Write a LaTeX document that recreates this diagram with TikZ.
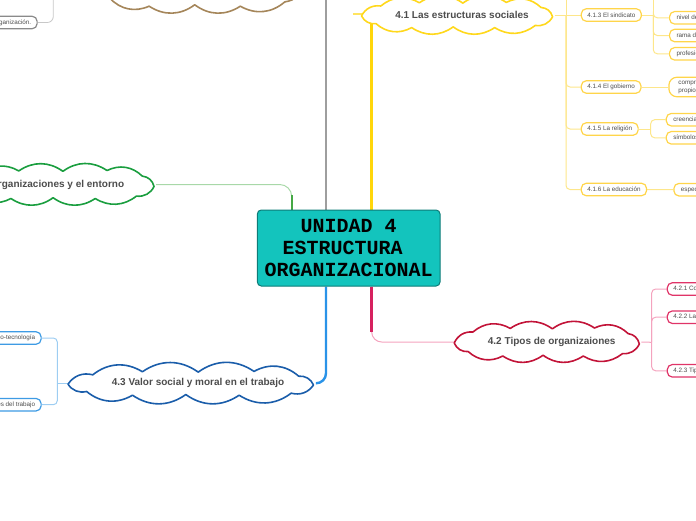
\documentclass[tikz,border=0pt]{standalone}
\usepackage{fontspec}
\setmainfont{Liberation Sans}
\newfontfamily\monofnt{Liberation Mono}
\pgfdeclarelayer{bg}
\pgfsetlayers{bg,main}
\definecolor{txtgray}{HTML}{4D4D4D}
\definecolor{cfill}{HTML}{13C4BD}
\definecolor{cborder}{HTML}{0D7C78}
\definecolor{grayline}{HTML}{9E9E9E}
\definecolor{grayleaf}{HTML}{8A8A8A}
\definecolor{graythin}{HTML}{C8C8C8}
\definecolor{yellowT}{HTML}{FFD60A}
\definecolor{yellowC}{HTML}{FFD81C}
\definecolor{yellowL}{HTML}{FFD54A}
\definecolor{yellowB}{HTML}{FDE68A}
\definecolor{greenT}{HTML}{45A845}
\definecolor{greenB}{HTML}{A8D8A8}
\definecolor{greenC}{HTML}{1A9E3F}
\definecolor{pinkT}{HTML}{D6215F}
\definecolor{pinkB}{HTML}{F4A3BE}
\definecolor{redC}{HTML}{C21338}
\definecolor{pinkL}{HTML}{E03468}
\definecolor{blueT}{HTML}{2A93E8}
\definecolor{blueC}{HTML}{1A5DAA}
\definecolor{blueL}{HTML}{3E9BE4}
\definecolor{blueB}{HTML}{9DCDF2}
\definecolor{brownC}{HTML}{A5865A}
% cloud outline: #1 style, #2 cx, #3 cy, #4 half width, #5 half height
\newcommand\mmcloud[5]{%
  \draw[#1] ({#2-1.00*#4},{#3+0.05*#5})
    to[bend left=35] ({#2-0.80*#4},{#3-0.50*#5})
    to[bend left=35] ({#2-0.40*#4},{#3-0.68*#5})
    to[bend left=35] ({#2+0.05*#4},{#3-0.66*#5})
    to[bend left=35] ({#2+0.50*#4},{#3-0.70*#5})
    to[bend left=35] ({#2+0.86*#4},{#3-0.42*#5})
    to[bend left=35] ({#2+0.98*#4},{#3+0.10*#5})
    to[bend left=35] ({#2+0.80*#4},{#3+0.58*#5})
    to[bend left=35] ({#2+0.38*#4},{#3+0.70*#5})
    to[bend left=35] ({#2-0.05*#4},{#3+0.66*#5})
    to[bend left=35] ({#2-0.48*#4},{#3+0.70*#5})
    to[bend left=35] ({#2-0.85*#4},{#3+0.48*#5})
    to[bend left=35] ({#2-1.00*#4},{#3+0.05*#5}) -- cycle;}
\begin{document}
\begin{tikzpicture}[x=1pt,y=-1pt,
  central/.style={draw=cborder, fill=cfill, line width=1pt, rounded corners=4pt,
    minimum width=182.7pt, minimum height=76pt, align=center, inner sep=0pt,
    font=\monofnt\bfseries\fontsize{20}{21.7}\selectfont, text=black},
  cloudline/.style={fill=white, line width=1.6pt, line join=round},
  cloudtext/.style={inner sep=0pt, font=\fontsize{10}{12}\selectfont\bfseries, text=txtgray},
  leaf/.style={fill=white, rounded corners=5pt, line width=1.2pt,
    minimum height=12.5pt, inner xsep=6pt, inner ysep=0pt,
    font=\fontsize{6.3}{7.4}\selectfont, text=txtgray},
  yleaf/.style={leaf, draw=yellowL, anchor=west},
  pleaf/.style={leaf, draw=pinkL, anchor=west},
  bleaf/.style={leaf, draw=blueL, anchor=east},
  ybranch/.style={draw=yellowB, line width=1pt, rounded corners=4pt},
  pbranch/.style={draw=pinkB, line width=1pt, rounded corners=4pt},
  bbranch/.style={draw=blueB, line width=1pt, rounded corners=4pt},
]
\useasboundingbox (0,0) rectangle (696,520);

% central
\node[central] (c) at (348.7,248) {UNIDAD 4\\ESTRUCTURA\hphantom{A}\\ORGANIZACIONAL};

% clouds
\mmcloud{cloudline, draw=yellowC}{458}{15}{96.5}{18}
\node[cloudtext, minimum width=193pt, minimum height=36pt] (s41) at (458,15) {\hspace{8pt}4.1 Las estructuras sociales};
\mmcloud{cloudline, draw=redC}{547.7}{342}{93.5}{20}
\node[cloudtext, minimum width=187pt, minimum height=40pt] (s42) at (547.7,342) {\hspace{8pt}4.2 Tipos de organizaiones};
\mmcloud{cloudline, draw=blueC}{192}{383.3}{124}{17}
\node[cloudtext, minimum width=248pt, minimum height=36pt] (s43) at (192,383.3) {\hspace{12pt}4.3 Valor social y moral en el trabajo};
\mmcloud{cloudline, draw=greenC}{58}{184.5}{98}{20}
\node[cloudtext, minimum width=196pt, minimum height=40pt] (s44) at (58,184.5) {organizaciones y el entorno};
\mmcloud{cloudline, draw=brownC}{200}{-19}{106}{36}
\node[cloudtext, minimum width=212pt, minimum height=72pt] (s45) at (200,-19) {};

% leaves of 4.1
\node[yleaf] (l413) at (580.7,15) {4.1.3 El sindicato};
\node[yleaf] (l414) at (580.7,87) {4.1.4 El gobierno};
\node[yleaf] (l415) at (580.7,129) {4.1.5 La religión};
\node[yleaf] (l416) at (580.7,189.5) {4.1.6 La educación};
\node[yleaf, inner xsep=7pt] (la) at (669,17.8) {nivel de empresa};
\node[yleaf, inner xsep=7pt] (lb) at (669,35.5) {rama de industria};
\node[yleaf, inner xsep=7pt] (lc) at (669,53.8) {profesional};
\node[yleaf, inner xsep=9.5pt, minimum height=19.5pt, align=left, rounded corners=8pt] (ld) at (668.3,87) {comprende al\\propio Estado};
\node[yleaf, inner xsep=7pt] (le) at (665.7,119.7) {creencias religiosas};
\node[yleaf, inner xsep=7pt] (lf) at (665.7,137.8) {símbolos religiosos};
\node[yleaf, inner xsep=7pt] (lg) at (673.3,189.7) {especialización};

% leaves of 4.2
\node[pleaf] (l421) at (666.7,289) {4.2.1 Concepto de organización};
\node[pleaf] (l422) at (666.7,317.2) {4.2.2 Las organizaciones formales};
\node[pleaf] (l423) at (666.7,370.8) {4.2.3 Tipos de organizaciones};

% leaves of 4.3
\node[bleaf] (l431) at (41.7,338) {La relación trabajo-tecnología};
\node[bleaf] (l432) at (41.7,404.7) {Los valores del trabajo};

% gray leaf top left
\node[leaf, draw=grayleaf, anchor=east] (l0) at (37.7,22.5) {Concepto de organización.};

% junction coordinates
\coordinate (topG) at (326,-8);
\coordinate (g0) at (53.3,-8);
\coordinate (gx) at (291.7,0);
\coordinate (yx) at (371.7,0);
\coordinate (y0) at (353,14);
\coordinate (yj) at (566,15);
\coordinate (ytop) at (566,-8);
\coordinate (j3) at (653.3,15);
\coordinate (j3top) at (653.3,-8);
\coordinate (j5) at (650.7,129);
\coordinate (px) at (371.7,0);
\coordinate (pj) at (651.7,342.3);
\coordinate (bx) at (326,0);
\coordinate (bj) at (57.3,383.3);

\begin{pgfonlayer}{bg}
% gray
\draw[line width=2.6pt, grayline] (c.north -| topG) -- (topG);
\draw[line width=0.8pt, graythin, rounded corners=6pt] (l0.east) -| (g0);
% green
\draw[line width=1pt, greenB, rounded corners=12pt] (c.north -| gx) |- (s44.east);
\draw[line width=2pt, greenT] (c.north -| gx) -- ++(0,-15);
% yellow
\draw[line width=1.2pt, yellowT, rounded corners=10pt] (c.north -| yx) |- (y0);
\draw[line width=2.6pt, yellowT] (c.north -| yx) -- ++(0,-186);
\draw[ybranch] (s41.east) -- (yj);
\draw[ybranch] (yj) -- (ytop);
\draw[ybranch] (yj) -- (l413.west);
\draw[ybranch] (yj) |- (l414.west);
\draw[ybranch] (yj) |- (l415.west);
\draw[ybranch] (yj) |- (l416.west);
\draw[ybranch] (l413.east) -- (j3);
\draw[ybranch] (j3) -- (j3top);
\draw[ybranch] (j3) |- (la.west);
\draw[ybranch] (j3) |- (lb.west);
\draw[ybranch] (j3) |- (lc.west);
\draw[ybranch] (l414.east) -- (ld.west);
\draw[ybranch] (l415.east) -- (j5);
\draw[ybranch] (j5) |- (le.west);
\draw[ybranch] (j5) |- (lf.west);
\draw[ybranch] (l416.east) -- (lg.west);
% pink
\draw[line width=1pt, pinkB, rounded corners=10pt] (c.south -| px) |- (s42.west);
\draw[line width=2.6pt, pinkT] (c.south -| px) -- ++(0,45);
\draw[pbranch] (s42.east) -- (pj);
\draw[pbranch] (pj) |- (l421.west);
\draw[pbranch] (pj) |- (l422.west);
\draw[pbranch] (pj) |- (l423.west);
% blue
\draw[line width=2.4pt, blueT, rounded corners=10pt] (c.south -| bx) |- (s43.east);
\draw[bbranch] (s43.west) -- (bj);
\draw[bbranch] (bj) |- (l431.east);
\draw[bbranch] (bj) |- (l432.east);
\end{pgfonlayer}
\end{tikzpicture}
\end{document}
